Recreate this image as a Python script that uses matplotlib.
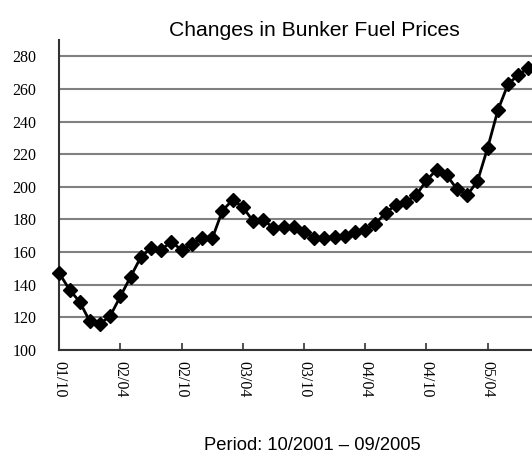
import matplotlib
matplotlib.use('Agg')
import matplotlib.pyplot as plt

# monthly bunker fuel prices, 10/2001 onwards
prices = [147, 137, 129.5, 117.5, 116, 121, 133, 145, 157, 162.5, 161.5, 166.5,
          161, 165, 168.5, 168.5, 185.5, 192, 187.5, 179, 179.5, 175, 175.5, 175.5,
          172.5, 168.5, 168.5, 169.5, 170, 172.5, 173.5, 177.5, 184, 189, 191, 195,
          204, 210.5, 207, 198.5, 195, 203.5, 224, 247, 263, 268.5, 273]
tick_labels = ['01/10', '02/04', '02/10', '03/04', '03/10', '04/04', '04/10', '05/04']
y_ticks = [100, 120, 140, 160, 180, 200, 220, 240, 260, 280]

fig = plt.figure(figsize=(5.32, 4.54), dpi=100)
# axes runs past the right edge like the original (cropped)
ax = fig.add_axes([59.3/532, 104/454, 47*10.2/532, 310/454])

x = list(range(len(prices)))
ax.plot(x, prices, color='black', lw=2, marker='D', ms=7, mfc='black', mec='black',
        zorder=3, clip_on=False)

ax.set_xlim(0, 47)
ax.set_ylim(100, 290)
ax.set_yticks(y_ticks)
ax.set_yticklabels([str(v) for v in y_ticks], family='Liberation Serif', fontsize=11.5)
ax.set_xticks(range(0, 48, 6))
ax.set_xticklabels(tick_labels, rotation=270, family='Liberation Serif', fontsize=11.5)
ax.tick_params(axis='x', direction='in', length=5, width=1.2, color='#333333', pad=8)
ax.tick_params(axis='y', length=0, pad=16.5)

ax.grid(axis='y', color='#808080', lw=1.5)
ax.set_axisbelow(True)
for s in ['top', 'right']:
    ax.spines[s].set_visible(False)
for s in ['left', 'bottom']:
    ax.spines[s].set_color('#333333')
    ax.spines[s].set_linewidth(1.5)

fig.text(314/532, 1 - 31/454, 'Changes in Bunker Fuel Prices', ha='center', va='center',
         family='Liberation Sans', fontsize=15.2)
fig.text(312/532, 1 - 445/454, 'Period: 10/2001 \u2013 09/2005', ha='center', va='center',
         family='Liberation Sans', fontsize=13.2)

fig.savefig('out.png', dpi=100)
